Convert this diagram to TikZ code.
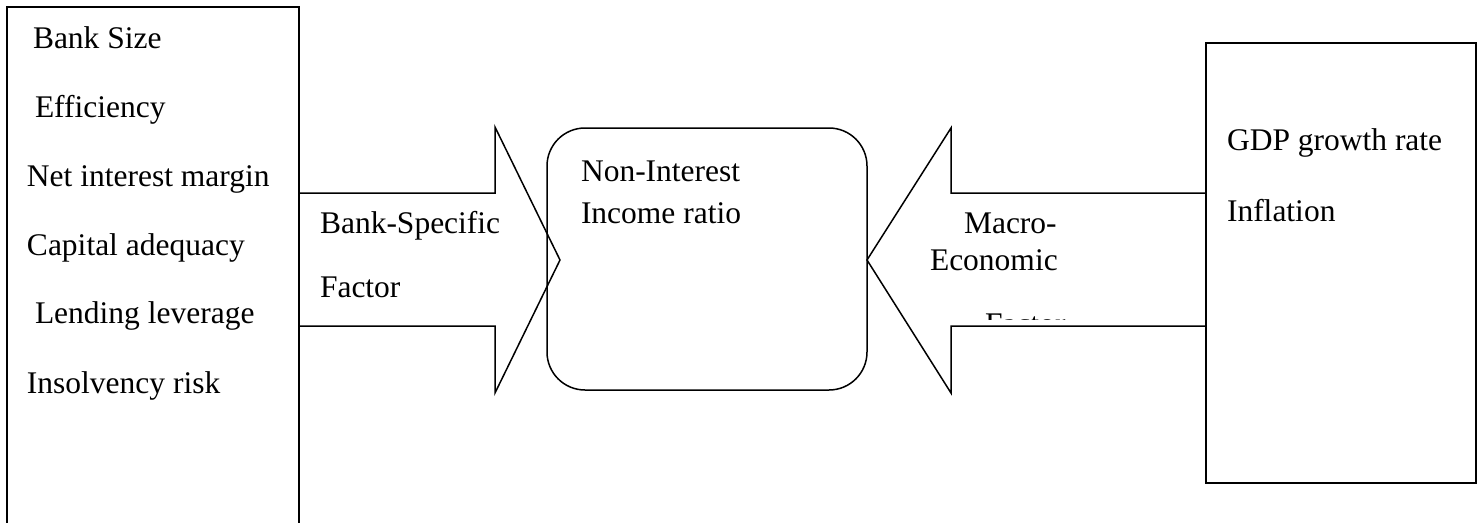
\documentclass[tikz,border=0pt]{standalone}
\usepackage{fontspec}
\setmainfont{Liberation Serif}
\begin{document}
\begin{tikzpicture}[x=1pt,y=-1pt,line width=1.5pt,line join=miter,
  box/.style={draw,rectangle,inner sep=0pt,outer sep=0pt,anchor=north west},
  lbl/.style={anchor=base west,inner sep=0pt,outer sep=0pt,font=\fontsize{31.5}{36}\selectfont},
  blockarrow/.style={draw}]
\useasboundingbox (0,0) rectangle (1483,522);
\clip (0,0) rectangle (1483,522);
% boxes
\node[box,minimum width=292pt,minimum height=540pt] (left) at (7,7) {};
\node[box,minimum width=270pt,minimum height=440pt] (right) at (1206,43) {};
\node[box,rounded corners=38pt,minimum width=320pt,minimum height=262pt] (center) at (547,128) {};
% block arrow: bank-specific -> center
\draw[blockarrow] (left.north east |- 0,193) -- (495,193) -- (495,127) -- (560,260)
  -- (495,393) -- (495,326) -- (left.north east |- 0,326);
% block arrow: macro-economic -> center
\draw[blockarrow] (right.north west |- 0,193) -- (951,193) -- (951,128) -- (center.east |- 0,260)
  -- (951,393) -- (951,326) -- (right.north west |- 0,326);
% left box texts
\node[lbl] (t1) at (33,48) {Bank Size};
\node[lbl] (t2) at (35,117) {Efficiency};
\node[lbl] (t3) at (27,186) {Net interest margin};
\node[lbl] (t4) at (27,255) {Capital adequacy};
\node[lbl] (t5) at (35,323) {Lending leverage};
\node[lbl] (t6) at (27,393) {Insolvency risk};
% arrow labels
\node[lbl] (b1) at (320,233) {Bank-Specific};
\node[lbl] (b2) at (320,297) {Factor};
\node[lbl] (m1) at (964,233) {Macro-};
\node[lbl] (m2) at (930,270) {Economic};
\begin{scope}
  \clip (900,290) rectangle (1100,319);
  \node[lbl] (m3) at (985,334) {Factor};
\end{scope}
% center texts
\node[lbl] (c1) at (581,181) {Non-Interest};
\node[lbl] (c2) at (581,223) {Income ratio};
% right box texts
\node[lbl] (r1) at (1227,150) {GDP growth rate};
\node[lbl] (r2) at (1227,221) {Inflation};
\end{tikzpicture}
\end{document}
